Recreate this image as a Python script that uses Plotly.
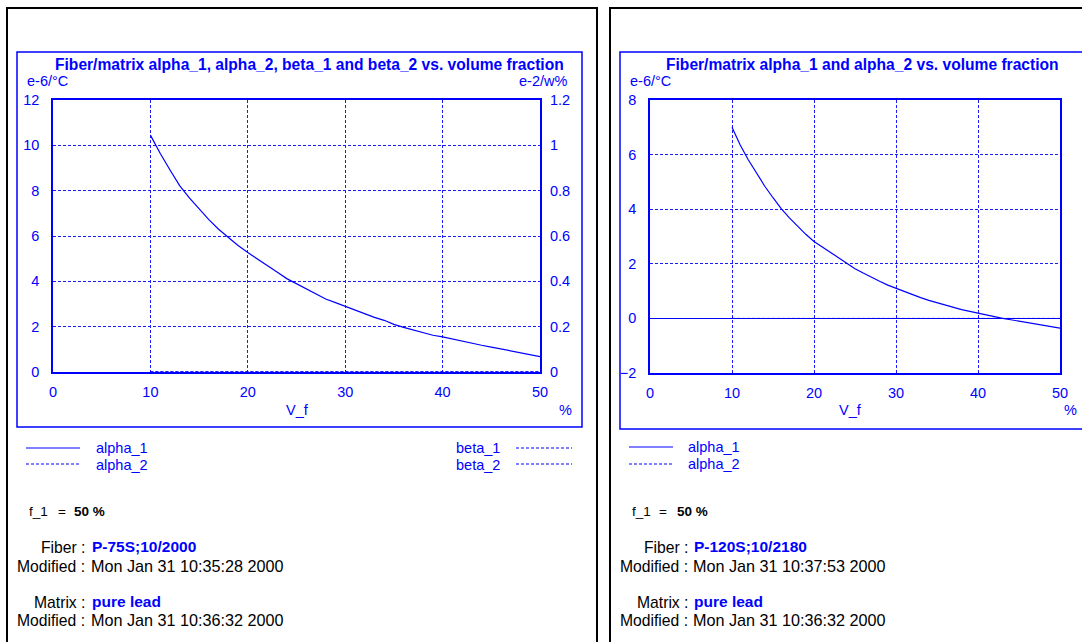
import plotly.graph_objects as go

W, H = 1082, 642
BLUE = "#0000ff"
GRID = "#1a1aff"
FONT = "Liberation Sans, Arial, sans-serif"

# ---------------- data ----------------
vf = [10, 11, 12, 13, 14, 15, 16, 17, 18, 19, 20, 21, 22, 23, 24, 25, 26, 27, 28, 29,
      30, 31, 32, 33, 34, 35, 36, 37, 38, 39, 40, 41, 42, 43, 44, 45, 46, 47, 48, 49, 50]

# Left panel: P-75S;10/2000 / pure lead
alpha1_left = [10.45, 9.65, 8.92, 8.22, 7.68, 7.18, 6.72, 6.30, 5.92, 5.58, 5.27,
               4.97, 4.68, 4.41, 4.12, 3.90, 3.68, 3.43, 3.22, 3.06, 2.90, 2.72,
               2.56, 2.41, 2.28, 2.10, 1.97, 1.86, 1.74, 1.62, 1.55, 1.45, 1.36,
               1.27, 1.18, 1.10, 1.02, 0.93, 0.85, 0.76, 0.68]
alpha2_left = [0, 0, 0, 0, 0, 0, 0, 0, 0, 0, 0, 0, 0, 0, 0, 0, 0, 0, 0, 0, 0,
               0, 0, 0, 0, 0, 0, 0, 0, 0, 0, 0, 0, 0, 0, 0, 0, 0, 0, 0, 0]
beta1_left = [0, 0, 0, 0, 0, 0, 0, 0, 0, 0, 0, 0, 0, 0, 0, 0, 0, 0, 0, 0, 0,
              0, 0, 0, 0, 0, 0, 0, 0, 0, 0, 0, 0, 0, 0, 0, 0, 0, 0, 0, 0]
beta2_left = [0, 0, 0, 0, 0, 0, 0, 0, 0, 0, 0, 0, 0, 0, 0, 0, 0, 0, 0, 0, 0,
              0, 0, 0, 0, 0, 0, 0, 0, 0, 0, 0, 0, 0, 0, 0, 0, 0, 0, 0, 0]

# Right panel: P-120S;10/2180 / pure lead
alpha1_right = [7.00, 6.35, 5.80, 5.30, 4.84, 4.42, 4.02, 3.68, 3.36, 3.08, 2.82,
                2.62, 2.42, 2.22, 2.05, 1.82, 1.66, 1.50, 1.36, 1.22, 1.10, 0.98,
                0.86, 0.76, 0.66, 0.57, 0.48, 0.41, 0.32, 0.26, 0.19, 0.13, 0.06,
                0.00, -0.05, -0.10, -0.16, -0.21, -0.26, -0.31, -0.36]
alpha2_right = [0, 0, 0, 0, 0, 0, 0, 0, 0, 0, 0, 0, 0, 0, 0, 0, 0, 0, 0, 0, 0,
                0, 0, 0, 0, 0, 0, 0, 0, 0, 0, 0, 0, 0, 0, 0, 0, 0, 0, 0, 0]

x_ticks = [0, 10, 20, 30, 40, 50]
left_y_ticks = [0, 2, 4, 6, 8, 10, 12]
left_y2_ticks = [0, 0.2, 0.4, 0.6, 0.8, 1.0, 1.2]
left_y2_labels = ["0", "0.2", "0.4", "0.6", "0.8", "1", "1.2"]
right_y_ticks = [-2, 0, 2, 4, 6, 8]

titles = ["Fiber/matrix alpha_1, alpha_2, beta_1 and beta_2 vs. volume fraction",
          "Fiber/matrix alpha_1 and alpha_2 vs. volume fraction"]
fibers = ["P-75S;10/2000", "P-120S;10/2180"]
fiber_dates = ["Mon Jan 31 10:35:28 2000", "Mon Jan 31 10:37:53 2000"]
matrix_name = "pure lead"
matrix_date = "Mon Jan 31 10:36:32 2000"
f1_value = "50 %"

DASH = "3px,2px"


def X(px):
    return px / W


def Y(py):
    return 1 - py / H


fig = go.Figure()

line_solid = dict(color=BLUE, width=1.2)
line_dash = dict(color=BLUE, width=1, dash=DASH)

fig.add_trace(go.Scatter(x=vf, y=alpha2_left, mode="lines", line=line_dash,
                         xaxis="x", yaxis="y", name="alpha_2"))
fig.add_trace(go.Scatter(x=vf, y=beta1_left, mode="lines", line=line_dash,
                         xaxis="x", yaxis="y2", name="beta_1"))
fig.add_trace(go.Scatter(x=vf, y=beta2_left, mode="lines", line=line_dash,
                         xaxis="x", yaxis="y2", name="beta_2"))
fig.add_trace(go.Scatter(x=vf, y=alpha1_left, mode="lines", line=line_solid,
                         xaxis="x", yaxis="y", name="alpha_1"))
fig.add_trace(go.Scatter(x=vf, y=alpha2_right, mode="lines", line=line_dash,
                         xaxis="x2", yaxis="y3", name="alpha_2"))
fig.add_trace(go.Scatter(x=vf, y=alpha1_right, mode="lines", line=line_solid,
                         xaxis="x2", yaxis="y3", name="alpha_1"))

tickfont = dict(family=FONT, size=14.5, color=BLUE)
common_x = dict(range=[0, 50], tickvals=x_ticks, showgrid=True, gridcolor=GRID,
                griddash=DASH, gridwidth=1, showline=True, linecolor=BLUE,
                linewidth=1.5, mirror=True, zeroline=False, ticks="",
                tickfont=tickfont, ticklabelstandoff=6, fixedrange=True,
                automargin=False)
common_y = dict(showgrid=True, gridcolor=GRID, griddash=DASH, gridwidth=1,
                showline=True, linecolor=BLUE, linewidth=1.5, mirror=True,
                ticks="", tickfont=tickfont, ticklabelstandoff=9, fixedrange=True,
                automargin=False)

fig.update_layout(
    width=W, height=H, autosize=False,
    margin=dict(l=0, r=0, t=0, b=0, pad=0, autoexpand=False),
    paper_bgcolor="white", plot_bgcolor="white", showlegend=False,
    xaxis=dict(domain=[X(53), X(540)], anchor="y", **common_x),
    yaxis=dict(domain=[Y(372), Y(100)], anchor="x", range=[0, 12],
               tickvals=left_y_ticks, zeroline=False, **common_y),
    yaxis2=dict(overlaying="y", side="right", anchor="x", range=[0, 1.2],
                tickvals=left_y2_ticks, ticktext=left_y2_labels, showgrid=False,
                showline=False, zeroline=False, ticks="", tickfont=tickfont,
                ticklabelstandoff=9, fixedrange=True, automargin=False),
    xaxis2=dict(domain=[X(650), X(1060)], anchor="y3", **common_x),
    yaxis3=dict(domain=[Y(373), Y(100)], anchor="x2", range=[-2, 8],
                tickvals=right_y_ticks, zeroline=True, zerolinecolor=BLUE,
                zerolinewidth=1.2, **common_y),
)

shapes = []
# outer black frames
shapes.append(dict(type="rect", xref="paper", yref="paper", x0=X(7), x1=X(597),
                   y0=Y(660), y1=Y(8), line=dict(color="black", width=2)))
shapes.append(dict(type="rect", xref="paper", yref="paper", x0=X(610), x1=X(1100),
                   y0=Y(660), y1=Y(8), line=dict(color="black", width=2)))
# inner blue frames
shapes.append(dict(type="rect", xref="paper", yref="paper", x0=X(17), x1=X(582),
                   y0=Y(427), y1=Y(52), line=dict(color=BLUE, width=1.5)))
shapes.append(dict(type="rect", xref="paper", yref="paper", x0=X(620), x1=X(1100),
                   y0=Y(429), y1=Y(52), line=dict(color=BLUE, width=1.5)))


def legend_line(x0, x1, y, dash):
    shapes.append(dict(type="line", xref="paper", yref="paper", x0=X(x0), x1=X(x1),
                       y0=Y(y), y1=Y(y),
                       line=dict(color=BLUE, width=1, dash=DASH if dash else "solid")))


legend_line(26, 80, 448, False)
legend_line(26, 80, 464, True)
legend_line(516, 572, 448, True)
legend_line(516, 572, 464, True)
legend_line(629, 673, 447, False)
legend_line(629, 673, 464, True)
fig.update_layout(shapes=shapes)

ann = []


def text(px, py, s, size=14.5, color=BLUE, anchor="left", bold=False):
    if bold:
        s = "<b>" + s + "</b>"
    ann.append(dict(x=X(px), y=Y(py), xref="paper", yref="paper", text=s,
                    showarrow=False, xanchor=anchor, yanchor="middle",
                    font=dict(family=FONT, size=size, color=color)))


LAB = 15.7   # "Fiber :", "Modified :" labels
VAL = 15.5   # bold blue names
DATE = 16.2  # dates
F1 = 13.5

# Left panel texts
text(309, 64, titles[0], size=15.6, anchor="center", bold=True)
text(25, 81, "e-6/°C")
text(569, 81, "e-2/w%", anchor="right")
text(297, 410, "V_f", anchor="center")
text(565, 410, "%", anchor="center")
text(94, 448, "alpha_1")
text(94, 465, "alpha_2")
text(454, 448, "beta_1")
text(454, 465, "beta_2")
text(27, 511, "f_1", size=F1, color="black")
text(56, 511, "=", size=F1, color="black")
text(72, 511, f1_value, size=F1, color="black", bold=True)
text(87, 547, "Fiber :", size=LAB, color="black", anchor="right")
text(90, 546, fibers[0], size=VAL, bold=True)
text(87, 566, "Modified :", size=LAB, color="black", anchor="right")
text(89, 566, fiber_dates[0], size=DATE, color="black")
text(87, 602, "Matrix :", size=LAB, color="black", anchor="right")
text(90, 601, matrix_name, size=VAL, bold=True)
text(87, 620, "Modified :", size=LAB, color="black", anchor="right")
text(89, 620, matrix_date, size=DATE, color="black")

# Right panel texts
text(862, 64, titles[1], size=15.6, anchor="center", bold=True)
text(628, 81, "e-6/°C")
text(850, 410, "V_f", anchor="center")
text(1070, 410, "%", anchor="center")
text(686, 447, "alpha_1")
text(686, 464, "alpha_2")
text(630, 511, "f_1", size=F1, color="black")
text(657, 511, "=", size=F1, color="black")
text(675, 511, f1_value, size=F1, color="black", bold=True)
text(690, 547, "Fiber :", size=LAB, color="black", anchor="right")
text(692, 546, fibers[1], size=VAL, bold=True)
text(690, 566, "Modified :", size=LAB, color="black", anchor="right")
text(691, 566, fiber_dates[1], size=DATE, color="black")
text(690, 602, "Matrix :", size=LAB, color="black", anchor="right")
text(692, 601, matrix_name, size=VAL, bold=True)
text(690, 620, "Modified :", size=LAB, color="black", anchor="right")
text(691, 620, matrix_date, size=DATE, color="black")

fig.update_layout(annotations=ann)

fig.write_html(
    "out.html",
    config={"displayModeBar": False, "responsive": False},
    post_script="document.documentElement.style.margin='0';document.body.style.margin='0';document.body.style.overflow='hidden';",
)
